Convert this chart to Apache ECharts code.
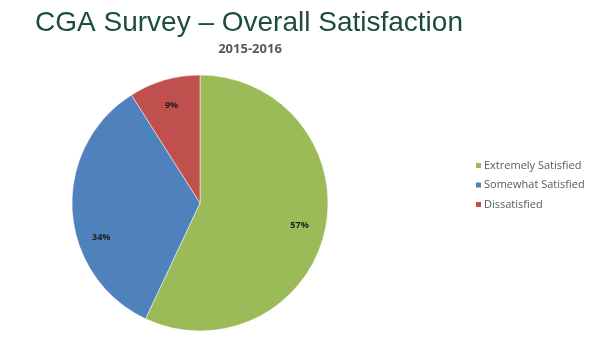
<!DOCTYPE html>
<html><head><meta charset="utf-8">
<script src="https://cdn.jsdelivr.net/npm/echarts@6/dist/echarts.min.js"></script>
<style>html,body{margin:0;padding:0;background:#fff}#c{width:590px;height:353px}</style>
</head><body><div id="c"></div>
<script>
const categories = ['Extremely Satisfied', 'Somewhat Satisfied', 'Dissatisfied'];
const values = [57, 34, 9];
const colors = ['#9BBB59', '#4F81BD', '#C0504D'];
const labelOffsets = [[0, 0], [3, 28], [0, 0]];

const data = categories.map((n, i) => ({ name: n, value: values[i], itemStyle: { color: colors[i] } }));
const chart = echarts.init(document.getElementById('c'), null, { renderer: 'canvas' });
chart.setOption({
  animation: false,
  backgroundColor: '#ffffff',
  title: [
    { text: 'CGA Survey – Overall Satisfaction', left: 244, textAlign: 'center', top: 4,
      textStyle: { fontFamily: 'Liberation Sans', fontSize: 28, fontWeight: 'normal', color: '#1D4D3A' } },
    { text: '2015-2016', left: 245, textAlign: 'center', top: 38,
      textStyle: { fontFamily: 'Open Sans', fontSize: 13, fontWeight: 'bold', color: '#595959' } }
  ],
  legend: {
    orient: 'vertical', left: 469, top: 154,
    icon: 'rect', itemWidth: 7, itemHeight: 7, itemGap: 6.5,
    textStyle: { fontFamily: 'Open Sans', fontSize: 11, color: '#595959', lineHeight: 13, padding: [0, 0, 0, -3] },
    data: categories
  },
  series: [
    {
      type: 'pie', center: [200, 203], radius: [0, 128], startAngle: 90, clockwise: true,
      label: { show: false }, labelLine: { show: false },
      itemStyle: { borderColor: '#ffffff', borderWidth: 0.5 },
      emphasis: { disabled: true },
      data: data
    },
    {
      type: 'pie', center: [200, 203], radius: [70, 128], startAngle: 90, clockwise: true,
      silent: true, emphasis: { disabled: true },
      itemStyle: { color: 'rgba(0,0,0,0)' },
      label: { show: true, position: 'inside', formatter: '{d}%',
        fontFamily: 'Open Sans', fontSize: 9, fontWeight: 'bold', color: '#1f1f1f' },
      labelLine: { show: false },
      data: categories.map((n, i) => ({ name: n, value: values[i],
        itemStyle: { color: 'rgba(0,0,0,0)' }, label: { offset: labelOffsets[i] } }))
    }
  ]
});
</script></body></html>
